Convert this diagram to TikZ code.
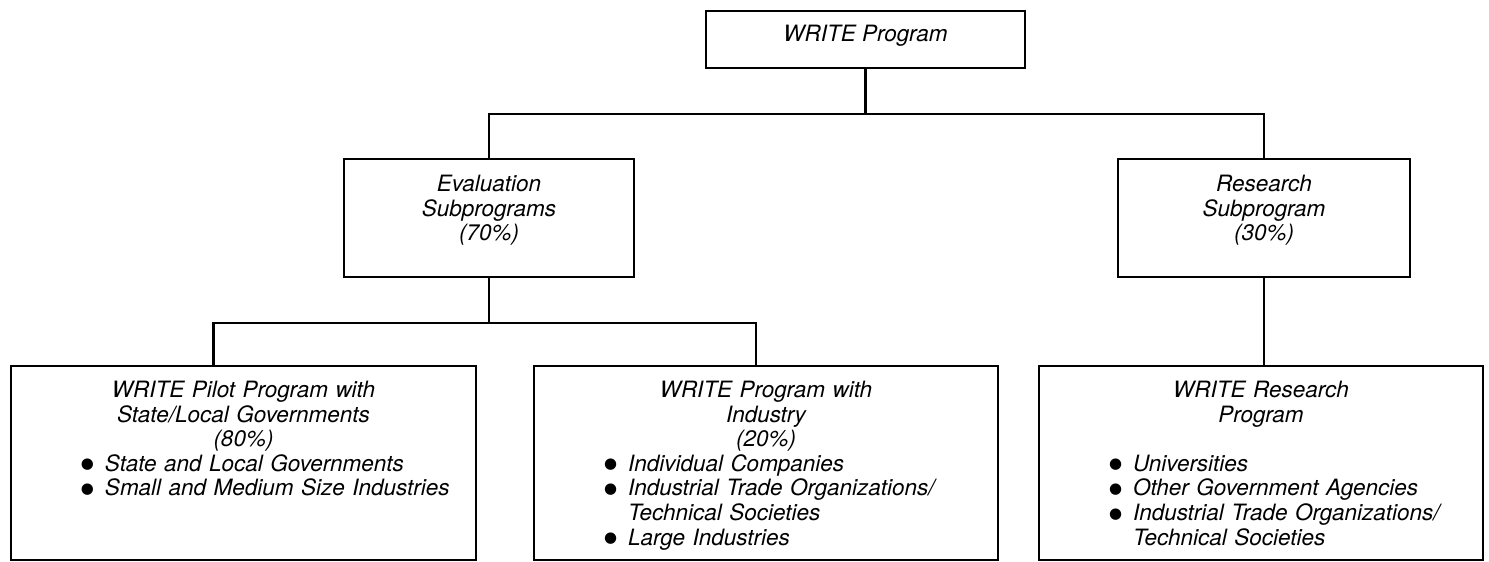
\documentclass[tikz,border=0pt]{standalone}
\usepackage{fontspec}
\setmainfont{TeX Gyre Heros}
\newfontfamily\dotfont{DejaVu Sans}
\usepackage{tikz}
\usetikzlibrary{positioning}
\setlength{\parindent}{0pt}
\newcommand{\bul}[1]{\par\hspace*{1.4cm}\makebox[0.48cm][l]{\raisebox{1.3pt}{\dotfont\upshape\fontsize{8.5}{10}\selectfont ●}}#1}
\newcommand{\cnt}[1]{\par\hspace*{1.88cm}#1}
\tikzset{
  orgbox/.style={rectangle, draw=black, line width=1.5pt, fill=white,
                 inner sep=0pt},
  txt/.style={inner sep=0pt, align=center,
              font=\fontsize{12.8}{14}\selectfont\itshape},
  listtxt/.style={inner sep=0pt, align=left,
                  font=\fontsize{12.8}{14}\selectfont\itshape},
  link/.style={line width=1.3pt},
}
\begin{document}
\begin{tikzpicture}
  \useasboundingbox (0,0) rectangle (29.78,-11.24);

  %% === Top level ===
  \node[orgbox, minimum width=6.38cm, minimum height=1.14cm] (top) at (17.31,-0.79) {};
  \node[txt] (toptxt) at ([yshift=0.08cm]top.center) {WRITE Program};

  %% === Subprograms ===
  \node[orgbox, minimum width=5.8cm, minimum height=2.36cm]  (eval)   at (9.78,-4.36) {};
  \node[orgbox, minimum width=5.84cm, minimum height=2.36cm] (ressub) at (25.28,-4.36) {};
  \node[txt, below=0.34cm of eval.north]   (evaltxt)   {Evaluation\\Subprograms\\(70\%)};
  \node[txt, below=0.34cm of ressub.north] (ressubtxt) {Research\\Subprogram\\(30\%)};

  %% === Programs ===
  \node[orgbox, minimum width=9.3cm, minimum height=3.88cm]  (pilot)    at (4.87,-9.26) {};
  \node[orgbox, minimum width=9.28cm, minimum height=3.88cm] (industry) at (15.32,-9.26) {};
  \node[orgbox, minimum width=8.88cm, minimum height=3.88cm] (resprog)  at (25.22,-9.26) {};

  \node[listtxt, text width=9.3cm, below=0.32cm of pilot.north] (pilottxt)
    {{\centering WRITE Pilot Program with\\State/Local Governments\\(80\%)\par}
     \bul{State and Local Governments}
     \bul{Small and Medium Size Industries}};
  \node[listtxt, text width=9.28cm, below=0.32cm of industry.north] (industrytxt)
    {{\centering WRITE Program with\\Industry\\(20\%)\par}
     \bul{Individual Companies}
     \bul{Industrial Trade Organizations/}
     \cnt{Technical Societies}
     \bul{Large Industries}};
  \node[listtxt, text width=8.88cm, below=0.32cm of resprog.north] (resprogtxt)
    {{\centering WRITE Research\\Program\\\mbox{}\par}
     \bul{Universities}
     \bul{Other Government Agencies}
     \bul{Industrial Trade Organizations/}
     \cnt{Technical Societies}};

  %% === Connectors ===
  \draw[link] (top.south) -- ++(0,-0.9) coordinate (bus1);
  \draw[link] (eval.north) |- (bus1) -| (ressub.north);
  \draw[link] (eval.south) -- ++(0,-0.9) coordinate (bus2);
  \draw[link] ([xshift=-0.6cm]pilot.north) |- (bus2) -| ([xshift=-0.2cm]industry.north);
  \draw[link] (ressub.south) -- (ressub.south |- resprog.north);
\end{tikzpicture}
\end{document}
